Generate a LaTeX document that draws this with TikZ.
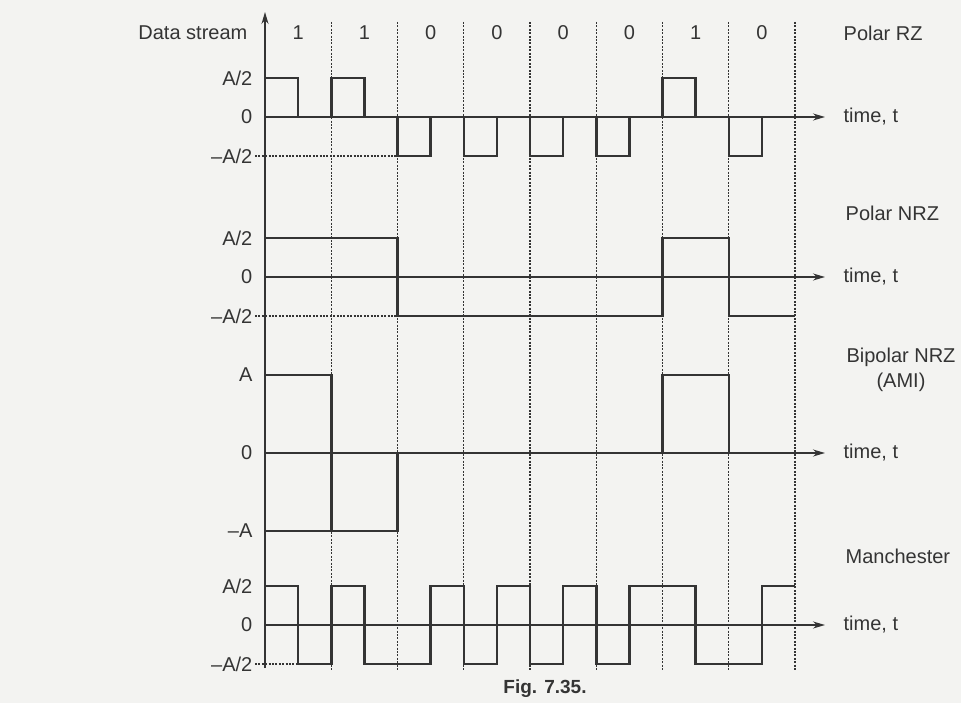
\documentclass[tikz,border=0pt]{standalone}
\usepackage{fontspec}
\setmainfont{Liberation Sans}
\usepackage{tikz}
\usetikzlibrary{positioning, calc, arrows.meta}
\definecolor{ink}{RGB}{52,52,52}
\definecolor{paper}{RGB}{243,243,241}

\begin{document}
\begin{tikzpicture}[x=1pt, y=-1pt, line width=1.3pt, font=\fontsize{20}{25}\selectfont]
	\tikzstyle{wave} = [draw=ink, line width=2.5pt, line join=miter];
	\tikzstyle{taxis} = [draw=ink, line width=1.5pt, -{Stealth[length=12pt, width=7pt]}];
	\tikzstyle{gridline} = [draw=ink, line width=1.2pt, dash pattern=on 2pt off 1.4pt];
	\tikzstyle{lbl} = [text=ink, inner sep=0pt];
	
	\fill[paper] (0,0) rectangle (961,703);
	\useasboundingbox (0,0) rectangle (961,703);
	
	\def \xo {265}
	\def \T {66.25}
	\def \h {39}
	\def \yrz {117}
	\def \ynrz {277}
	\def \yami {453}
	\def \ymc {625}
	
	% axis and bit slots
	\coordinate (top) at (\xo,12);
	\coordinate (bot) at (\xo,668);
	\foreach \i in {1,...,8}
	{
		\draw[gridline] (\xo+\i*\T,22) -- (\xo+\i*\T,670);
	}
	\draw[taxis] (bot) -- (top);
	
	\node[lbl, anchor=east] (ds) at (248,33) {Data stream};
	\foreach \b [count=\i] in {1,1,0,0,0,0,1,0}
	{
		\node[lbl] (b\i) at (\xo+\i*\T-\T/2,33) {\b};
	}
	
	\node[lbl, anchor=west] (rz) at (843,33) {Polar RZ};
	\node[lbl, anchor=west] (nrz) at (845,213) {Polar NRZ};
	\node[lbl, align=center] (ami) at (901,370) {Bipolar NRZ\\(AMI)};
	\node[lbl, anchor=west] (mc) at (845,556) {Manchester};
	
	\foreach \y [count=\r] in {\yrz,\ynrz,\yami,\ymc}
	{
		\coordinate (o\r) at (\xo,\y);
		\coordinate (e\r) at (825,\y);
		\draw[taxis] (o\r) -- (e\r);
		\node[lbl, anchor=west] (t\r) at (843,\y) {time, t};
	}
	
	% level labels
	\node[lbl, anchor=east] (rzp) at (253,\yrz-\h) {A/2};
	\node[lbl, anchor=east] (rz0) at (253,\yrz) {0};
	\node[lbl, anchor=east] (rzm) at (253,\yrz+\h) {--A/2};
	\node[lbl, anchor=east] (nrzp) at (253,\ynrz-\h) {A/2};
	\node[lbl, anchor=east] (nrz0) at (253,\ynrz) {0};
	\node[lbl, anchor=east] (nrzm) at (253,\ynrz+\h) {--A/2};
	\node[lbl, anchor=east] (amip) at (253,\yami-2*\h) {A};
	\node[lbl, anchor=east] (ami0) at (253,\yami) {0};
	\node[lbl, anchor=east] (amim) at (253,\yami+2*\h) {--A};
	\node[lbl, anchor=east] (mcp) at (253,\ymc-\h) {A/2};
	\node[lbl, anchor=east] (mc0) at (253,\ymc) {0};
	\node[lbl, anchor=east] (mcm) at (253,\ymc+\h) {--A/2};
	
	\draw[gridline] (rzm.east) ++(2pt,0) -- (\xo+2*\T,\yrz+\h);
	\draw[gridline] (nrzm.east) ++(2pt,0) -- (\xo+2*\T,\ynrz+\h);
	\draw[gridline] (mcm.east) ++(2pt,0) -- (\xo+\T,\ymc+\h);
	\draw[ink] (o3) ++(0,2*\h) -- ++(\T,0);
	
	% waveforms
	\draw[wave] (o1) \foreach \s in {-1,-1,1,1,1,1,-1,1}
		{ -- ++(0,{(\s)*\h}) -- ++(\T/2,0) -- ++(0,{-(\s)*\h}) -- ++(\T/2,0) };
	\draw[wave] (o2) \foreach \i/\s in {0/-1,1/-1,2/1,3/1,4/1,5/1,6/-1,7/1}
		{ -- (\xo+\i*\T,{\ynrz+(\s)*\h}) -- ++(\T,0) };
	\draw[wave] (o3) \foreach \i/\s in {0/-2,1/2,2/0,3/0,4/0,5/0,6/-2,7/0}
		{ -- (\xo+\i*\T,{\yami+(\s)*\h}) -- ++(\T,0) };
	\draw[wave] (o4) \foreach \i/\s in {0/-1,1/-1,2/1,3/1,4/1,5/1,6/-1,7/1}
		{ -- (\xo+\i*\T,{\ymc+(\s)*\h}) -- ++(\T/2,0) -- ++(0,{-2*(\s)*\h}) -- ++(\T/2,0) };
	
	\node[lbl, font=\fontsize{19}{25}\selectfont\bfseries] (fig) at (545,689) {Fig. 7.35.};
	
\end{tikzpicture}
\end{document}
